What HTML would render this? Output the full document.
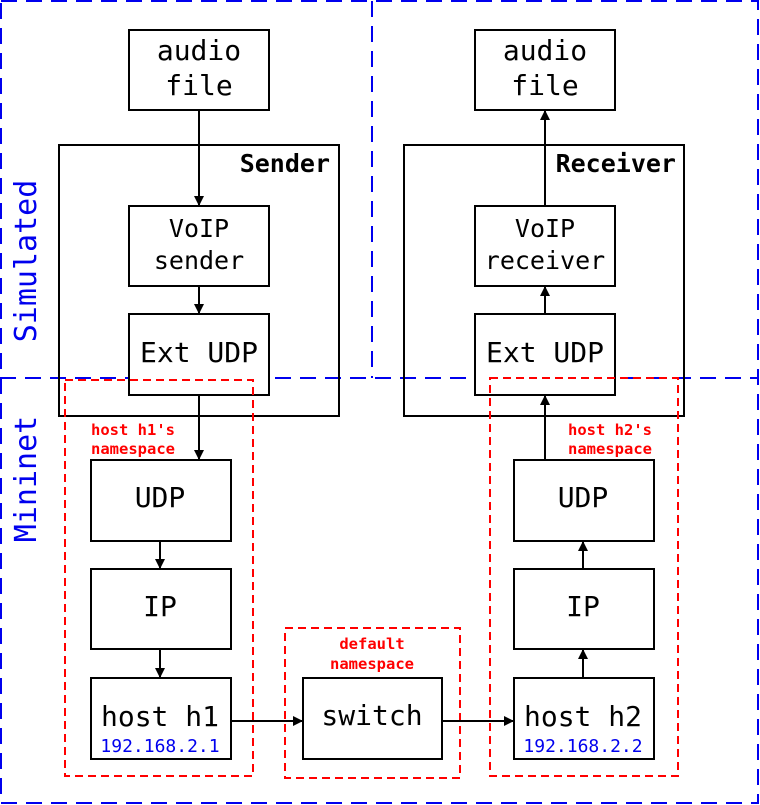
<!DOCTYPE html>
<html><head><meta charset="utf-8"><style>html,body{margin:0;padding:0;background:#fff}svg{display:block}</style></head>
<body>
<svg width="760" height="805" viewBox="0 0 760 805" xmlns="http://www.w3.org/2000/svg" font-family="DejaVu Sans Mono, Liberation Mono, monospace">
<defs><marker id="a" markerWidth="10" markerHeight="10" refX="9" refY="5" orient="auto" markerUnits="userSpaceOnUse"><path d="M0,0 L10,5 L0,10 Z" fill="#000"/></marker></defs>
<g fill="none" stroke="#0000ee" stroke-width="2" stroke-dasharray="16,9">
<rect x="1" y="1" width="757" height="802"/>
<line x1="0" y1="378" x2="758" y2="378"/>
<line x1="372" y1="1" x2="372" y2="378"/>
</g>
<text transform="translate(36,261) rotate(-90)" text-anchor="middle" font-size="30" fill="#0000ee">Simulated</text>
<text transform="translate(36,479) rotate(-90)" text-anchor="middle" font-size="30" fill="#0000ee">Mininet</text>
<g fill="#fff" stroke="#000" stroke-width="2">
<rect x="59" y="145" width="280" height="271" fill="none"/>
<rect x="404" y="145" width="280" height="271" fill="none"/>
<rect x="129" y="30" width="140" height="80"/>
<rect x="475" y="30" width="140" height="80"/>
<rect x="129" y="206" width="140" height="80"/>
<rect x="475" y="206" width="140" height="80"/>
<rect x="129" y="314" width="140" height="81"/>
<rect x="475" y="314" width="140" height="81"/>
<rect x="91" y="460" width="140" height="81"/>
<rect x="91" y="569" width="140" height="80"/>
<rect x="91" y="678" width="140" height="81"/>
<rect x="514" y="460" width="140" height="81"/>
<rect x="514" y="569" width="140" height="80"/>
<rect x="514" y="678" width="140" height="81"/>
<rect x="303" y="678" width="139" height="81"/>
</g>
<g fill="none" stroke="#ff0000" stroke-width="2" stroke-dasharray="8,5">
<rect x="65" y="380" width="188" height="396"/>
<rect x="490" y="378" width="188" height="398"/>
<rect x="285" y="628" width="175" height="150"/>
</g>
<g stroke="#000" stroke-width="2" marker-end="url(#a)">
<line x1="199" y1="110" x2="199" y2="205"/>
<line x1="199" y1="286" x2="199" y2="313"/>
<line x1="199" y1="395" x2="199" y2="459"/>
<line x1="160" y1="541" x2="160" y2="568"/>
<line x1="160" y1="649" x2="160" y2="677"/>
<line x1="231" y1="721" x2="302" y2="721"/>
<line x1="442" y1="721" x2="513" y2="721"/>
<line x1="583" y1="678" x2="583" y2="650"/>
<line x1="583" y1="569" x2="583" y2="542"/>
<line x1="545" y1="460" x2="545" y2="396"/>
<line x1="545" y1="314" x2="545" y2="287"/>
<line x1="545" y1="206" x2="545" y2="111"/>
</g>
<g font-size="28" text-anchor="middle" fill="#000">
<text x="199" y="60">audio</text><text x="199" y="95">file</text>
<text x="545" y="60">audio</text><text x="545" y="95">file</text>
<text x="199" y="362">Ext UDP</text><text x="545" y="362">Ext UDP</text>
<text x="160" y="507">UDP</text><text x="160" y="616">IP</text>
<text x="583" y="507">UDP</text><text x="583" y="616">IP</text>
<text x="160" y="726">host h1</text><text x="583" y="726">host h2</text>
<text x="372" y="725">switch</text>
</g>
<g font-size="25" text-anchor="middle">
<text x="199" y="237">VoIP</text><text x="199" y="269">sender</text>
<text x="545" y="237">VoIP</text><text x="545" y="269">receiver</text>
</g>
<text x="330" y="172" font-size="25" font-weight="bold" text-anchor="end">Sender</text>
<text x="676" y="172" font-size="25" font-weight="bold" text-anchor="end">Receiver</text>
<g font-size="15.5" font-weight="bold" fill="#ff0000">
<text x="91" y="435">host h1's</text><text x="91" y="454">namespace</text>
<text x="568" y="435">host h2's</text><text x="568" y="454">namespace</text>
<text x="372" y="649" text-anchor="middle">default</text><text x="372" y="669" text-anchor="middle">namespace</text>
</g>
<g font-size="18" fill="#0000ee" text-anchor="middle">
<text x="160" y="752">192.168.2.1</text><text x="583" y="752">192.168.2.2</text>
</g>
</svg>
</body></html>
